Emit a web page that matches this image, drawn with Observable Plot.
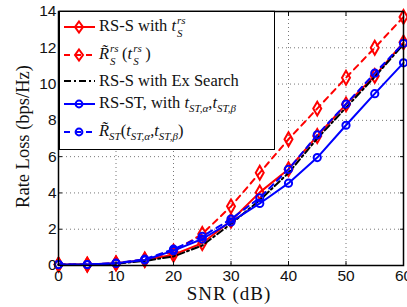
<!DOCTYPE html>
<html><head><meta charset="utf-8">
<script src="https://cdn.jsdelivr.net/npm/d3@7"></script>
<script src="https://cdn.jsdelivr.net/npm/@observablehq/plot@0.6"></script>
<style>
html,body{margin:0;padding:0;background:#fff;}
#wrap{position:relative;width:407px;height:307px;overflow:hidden;}
#legend{position:absolute;left:59px;top:11px;width:214px;height:137px;background:#fff;border:1.5px solid #000;box-shadow:0 -1px 0 #888;font-family:"Liberation Serif","DejaVu Serif",serif;font-size:16.5px;color:#111;}
.row{position:absolute;left:4px;display:flex;align-items:center;white-space:nowrap;}
.row svg{margin-right:4px;flex:none;}
.m{font-style:italic;}
.ss{display:inline-block;position:relative;width:13px;height:22px;vertical-align:middle;font-size:11px;font-style:italic;}
.ss .up{position:absolute;left:1px;top:-1px;line-height:11px;}
.ss .dn{position:absolute;left:1px;top:12px;line-height:11px;}
.sub{font-size:11px;font-style:italic;vertical-align:-4px;}
.xl{position:absolute;font-family:"Liberation Serif","DejaVu Serif",serif;font-size:19px;color:#111;white-space:nowrap;}
</style></head>
<body><div id="wrap"></div>
<script>
const snr = [0,5,10,15,20,25,30,35,40,45,50,55,60];
const rsS      = [0.05,0.05,0.12,0.3,0.59,1.23,2.47,4.03,5.31,7.14,8.88,10.45,12.3];
const rsSTilde = [0.05,0.05,0.12,0.33,0.77,1.74,3.26,5.11,6.96,8.65,10.35,12.0,13.7];
const exSearch = [0.04,0.04,0.1,0.25,0.5,1.1,2.3,3.6,5.1,7.0,8.7,10.4,12.2];
const rsST     = [0.05,0.05,0.12,0.3,0.82,1.46,2.4,3.42,4.54,5.95,7.73,9.47,11.17];
const rsSTTilde= [0.05,0.05,0.13,0.35,0.9,1.6,2.56,3.73,5.3,7.2,8.9,10.6,12.25];
const xTicks = [0,10,20,30,40,50,60];
const yTicks = [0,2,4,6,8,10,12,14];

const series = [
  {name:"rsS", vals:rsS, color:"#ff0000", dash:null, sym:"diamond"},
  {name:"rsSTilde", vals:rsSTilde, color:"#ff0000", dash:"6,5", sym:"diamond"},
  {name:"ex", vals:exSearch, color:"#000000", dash:"7,3,2,3", sym:null},
  {name:"rsST", vals:rsST, color:"#0000ff", dash:null, sym:"circle"},
  {name:"rsSTTilde", vals:rsSTTilde, color:"#0000ff", dash:"6,5", sym:"circle"}
];
const marks = [
  Plot.gridX(xTicks, {stroke:"#777", strokeOpacity:1, strokeDasharray:"1,3"}),
  Plot.gridY(yTicks, {stroke:"#777", strokeOpacity:1, strokeDasharray:"1,3"}),
];
for (const s of series) {
  const rows = snr.map((x,i)=>({x, y:s.vals[i]}));
  marks.push(Plot.line(rows, {x:"x", y:"y", stroke:s.color, strokeWidth:2, strokeDasharray:s.dash}));
  if (s.sym) marks.push(Plot.dot(rows, {x:"x", y:"y", stroke:s.color, strokeWidth:2, fill:"none", symbol:s.sym, r: s.sym==="circle"?3.6:4.2}));
}
marks.push(
  Plot.axisX(xTicks, {tickSize:-4, tickPadding:8, fontSize:15.5, label:null}),
  Plot.axisX(xTicks, {anchor:"top", tickSize:-4, tickFormat:()=>"", label:null}),
  Plot.axisY(yTicks, {tickSize:-4, tickPadding:6, fontSize:15.5, label:null}),
  Plot.axisY(yTicks, {anchor:"right", tickSize:-4, tickFormat:()=>"", label:null}),
  Plot.frame({stroke:"#000", strokeWidth:1.5})
);
const chart = Plot.plot({
  width:407, height:307,
  marginLeft:58, marginRight:4, marginTop:11, marginBottom:42,
  x:{domain:[0,60]}, y:{domain:[0,14]},
  style:{fontFamily:"'Liberation Sans',Arial,sans-serif", color:"#111", background:"#fff", overflow:"visible"},
  marks
});
const wrap = document.getElementById("wrap");
wrap.appendChild(chart);

const xl = document.createElement("div");
xl.className="xl"; xl.textContent="SNR (dB)";
xl.style.letterSpacing="1px";
xl.style.left="129px"; xl.style.width="200px"; xl.style.textAlign="center"; xl.style.top="283px";
wrap.appendChild(xl);
const yl = document.createElement("div");
yl.className="xl"; yl.textContent="Rate Loss (bps/Hz)";
yl.style.fontSize="18.5px";
yl.style.width="200px"; yl.style.textAlign="center";
yl.style.left=(23-100)+"px"; yl.style.top=(137-11)+"px"; yl.style.transform="rotate(-90deg)";
wrap.appendChild(yl);

const st = (a,b)=>`<span class="ss"><span class="up">${a}</span><span class="dn">${b}</span></span>`;
const legendItems = [
  {s:series[0], html:'RS-S with&nbsp;<span class="m">t</span>'+st('rs','S')},
  {s:series[1], html:'<span class="m">R&#771;</span>'+st('rs','S')+'(<span class="m">t</span>'+st('rs','S')+')'},
  {s:series[2], html:'RS-S with Ex Search'},
  {s:series[3], html:'RS-ST, with&nbsp;<span class="m">t</span><span class="sub">ST,α</span>,<span class="m">t</span><span class="sub">ST,β</span>'},
  {s:series[4], html:'<span class="m">R&#771;</span><span class="sub">ST</span>(<span class="m">t</span><span class="sub">ST,α</span>,<span class="m">t</span><span class="sub">ST,β</span>)'}
];
const tops=[16,44,71,93,121];
const leg=document.createElement("div"); leg.id="legend";
legendItems.forEach((it,i)=>{
  const r=document.createElement("div"); r.className="row"; r.style.top=(tops[i]-12)+"px";
  const s=it.s;
  let sym="";
  if (s.sym==="diamond") sym=`<path d="M15,2.5 L19,8 L15,13.5 L11,8 Z" fill="none" stroke="${s.color}" stroke-width="2"/>`;
  if (s.sym==="circle") sym=`<circle cx="15" cy="8" r="3.4" fill="none" stroke="${s.color}" stroke-width="2"/>`;
  r.innerHTML=`<svg width="31" height="16"><line x1="0" y1="8" x2="31" y2="8" stroke="${s.color}" stroke-width="2" ${s.dash?`stroke-dasharray="${s.dash}"`:""}/>${sym}</svg><span>${it.html}</span>`;
  leg.appendChild(r);
});
wrap.appendChild(leg);
</script></body></html>
